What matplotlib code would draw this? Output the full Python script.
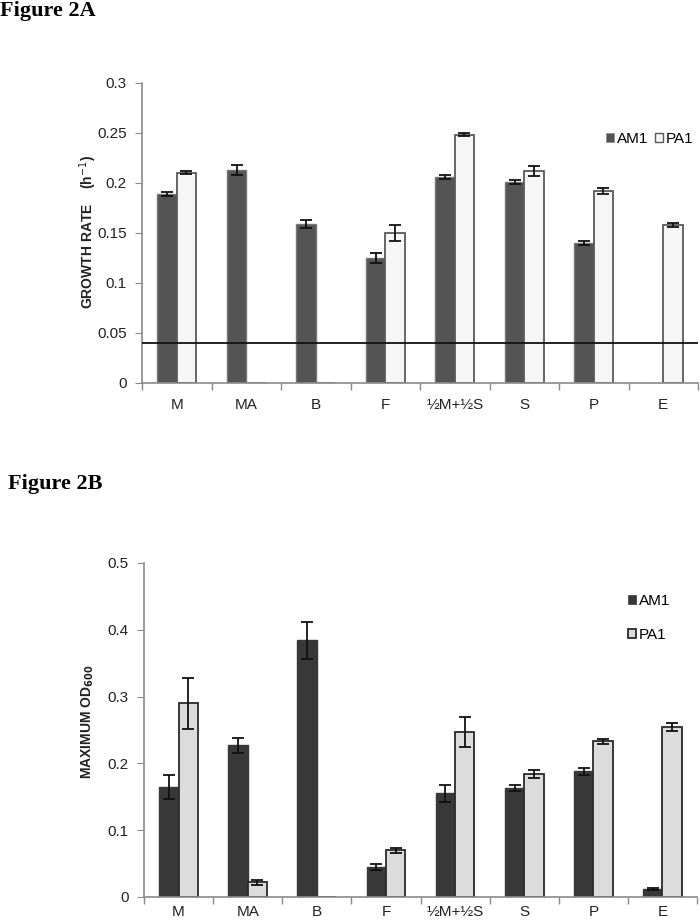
import numpy as np
import matplotlib
matplotlib.use("Agg")
import matplotlib.pyplot as plt
from matplotlib.patches import Patch

plt.rcParams['font.family'] = ['Liberation Sans', 'DejaVu Sans']

categories = ["M", "MA", "B", "F", "½M+½S", "S", "P", "E"]

# Figure 2A: growth rate (h^-1)
gr_am1 = [0.189, 0.213, 0.159, 0.125, 0.206, 0.201, 0.140, 0.0]
gr_am1_err = [0.002, 0.005, 0.004, 0.005, 0.002, 0.002, 0.002, 0.0]
gr_pa1 = [0.210, 0.0, 0.0, 0.150, 0.248, 0.212, 0.192, 0.158]
gr_pa1_err = [0.0015, 0.0, 0.0, 0.008, 0.0015, 0.005, 0.003, 0.002]
gr_threshold = 0.040
gr_yticks = [0, 0.05, 0.1, 0.15, 0.2, 0.25, 0.3]
gr_yticklabels = ["0", "0.05", "0.1", "0.15", "0.2", "0.25", "0.3"]

# Figure 2B: maximum OD600
od_am1 = [0.164, 0.227, 0.384, 0.045, 0.155, 0.163, 0.188, 0.012]
od_am1_err = [0.018, 0.011, 0.027, 0.005, 0.013, 0.005, 0.005, 0.002]
od_pa1 = [0.290, 0.022, 0.0, 0.070, 0.247, 0.184, 0.233, 0.254]
od_pa1_err = [0.038, 0.004, 0.0, 0.004, 0.023, 0.006, 0.004, 0.006]
od_yticks = [0, 0.1, 0.2, 0.3, 0.4, 0.5]
od_yticklabels = ["0", "0.1", "0.2", "0.3", "0.4", "0.5"]

W, H = 700, 923
fig = plt.figure(figsize=(7, 9.23), dpi=100)


def axes_px(left, right, top, bottom):
    return fig.add_axes([left / W, 1 - bottom / H, (right - left) / W, (bottom - top) / H])


def style_axes(ax, ylim, yticks, yticklabels, xpad):
    n = len(categories)
    ax.set_xlim(-0.5, n - 0.5)
    ax.set_ylim(*ylim)
    for s in ["top", "right"]:
        ax.spines[s].set_visible(False)
    for s in ["left", "bottom"]:
        ax.spines[s].set_color("#8a8a8a")
        ax.spines[s].set_linewidth(1.2)
    ax.set_yticks(yticks)
    ax.set_yticklabels(yticklabels)
    ax.tick_params(axis="y", length=5, color="#8a8a8a", labelsize=11, labelcolor="#222222", pad=6)
    ax.set_xticks(np.arange(n))
    ax.set_xticklabels(categories)
    ax.tick_params(axis="x", which="major", length=0, labelsize=11, labelcolor="#222222", pad=xpad)
    ax.set_xticks(np.arange(n + 1) - 0.5, minor=True)
    ax.tick_params(axis="x", which="minor", length=5, color="#8a8a8a", width=1.0)


def draw_bars(ax, a, ae, p, pe, ca, ea, cp, ep):
    x = np.arange(len(categories))
    w = 0.28
    ax.bar(x - w / 2, a, w, color=ca, edgecolor=ea, linewidth=1.0, zorder=2)
    ax.bar(x + w / 2, p, w, color=cp, edgecolor=ep, linewidth=1.3, zorder=2)
    a = np.array(a); ae = np.array(ae); p = np.array(p); pe = np.array(pe)
    ma = ae > 0
    mp = pe > 0
    ax.errorbar((x - w / 2)[ma], a[ma], yerr=ae[ma], fmt="none", ecolor="#111111",
                elinewidth=1.3, capsize=4, capthick=1.3, zorder=3)
    ax.errorbar((x + w / 2)[mp], p[mp], yerr=pe[mp], fmt="none", ecolor="#111111",
                elinewidth=1.3, capsize=4, capthick=1.3, zorder=3)


# ---- Figure 2A ----
fig.text(0 / W, 1 - 11 / H, "Figure 2A", family="Liberation Serif", fontweight="bold",
         fontsize=16, va="center", ha="left")
axA = axes_px(142, 698, 83, 383)
draw_bars(axA, gr_am1, gr_am1_err, gr_pa1, gr_pa1_err,
          "#545454", "#777777", "#f6f6f6", "#5a5a5a")
style_axes(axA, (0, 0.3), gr_yticks, gr_yticklabels, 10.5)
axA.axhline(gr_threshold, color="#111111", linewidth=1.3, zorder=4)
fig.text(88 / W, 1 - 232 / H, "GROWTH RATE    (h$^{-1}$)", rotation=90, fontweight="bold",
         fontsize=10, ha="center", va="center", color="#222222")
hA = [Patch(facecolor="#545454", edgecolor="#888888", linewidth=0.5),
      Patch(facecolor="#f6f6f6", edgecolor="#5a5a5a", linewidth=1.0)]
fig.legend(hA, ["AM1", "PA1"], loc="center left", bbox_to_anchor=(598 / W, 1 - 139 / H),
           ncol=2, frameon=False, fontsize=11, handlelength=0.55, handleheight=0.55,
           handletextpad=0.2, columnspacing=0.4, borderpad=0)

# ---- Figure 2B ----
fig.text(8 / W, 1 - 484 / H, "Figure 2B", family="Liberation Serif", fontweight="bold",
         fontsize=16, va="center", ha="left")
axB = axes_px(144, 697, 563, 897)
draw_bars(axB, od_am1, od_am1_err, od_pa1, od_pa1_err,
          "#383838", "#383838", "#dcdcdc", "#2a2a2a")
style_axes(axB, (0, 0.5), od_yticks, od_yticklabels, 6)
fig.text(88 / W, 1 - 722 / H, "MAXIMUM OD$_{\\mathbf{600}}$", rotation=90, fontweight="bold",
         fontsize=10, ha="center", va="center", color="#222222")
hB = [Patch(facecolor="#383838", edgecolor="#383838", linewidth=0.5),
      Patch(facecolor="#dcdcdc", edgecolor="#2a2a2a", linewidth=1.3)]
fig.legend(hB, ["AM1", "PA1"], loc="upper left", bbox_to_anchor=(620 / W, 1 - 586 / H),
           ncol=1, frameon=False, fontsize=11, handlelength=0.55, handleheight=0.55,
           handletextpad=0.2, labelspacing=1.35, borderpad=0)

fig.savefig("out.png", dpi=100)
